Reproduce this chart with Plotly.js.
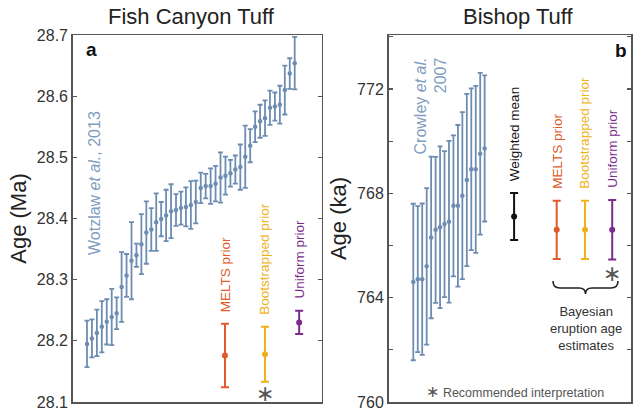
<!DOCTYPE html>
<html>
<head>
<meta charset="utf-8">
<script src="https://cdn.plot.ly/plotly-3.0.1.min.js"></script>
<style>html,body{margin:0;padding:0;background:#fff;}#chart{width:633px;height:415px;}</style>
</head>
<body>
<div id="chart"></div>
<script>
// ---------- Data ----------
// Fish Canyon Tuff (Wotzlaw et al., 2013) single-zircon ages, Ma
const fctAge = [28.195, 28.204, 28.213, 28.223, 28.231, 28.239, 28.245, 28.288, 28.307, 28.331,
                28.340, 28.358, 28.377, 28.382, 28.394, 28.399, 28.405, 28.412, 28.414, 28.417,
                28.419, 28.422, 28.427, 28.450, 28.453, 28.453, 28.457, 28.467, 28.470, 28.474,
                28.480, 28.484, 28.501, 28.519, 28.550, 28.559, 28.564, 28.581, 28.583, 28.586,
                28.610, 28.637, 28.654];
const fctErr = [0.038, 0.031, 0.038, 0.042, 0.037, 0.046, 0.026, 0.057, 0.035, 0.063,
                0.019, 0.049, 0.051, 0.035, 0.047, 0.028, 0.042, 0.044, 0.026, 0.027,
                0.032, 0.039, 0.035, 0.025, 0.020, 0.029, 0.029, 0.041, 0.031, 0.022,
                0.023, 0.037, 0.051, 0.027, 0.025, 0.027, 0.029, 0.028, 0.023, 0.031,
                0.040, 0.025, 0.043];
// Fish Canyon Tuff Bayesian eruption age estimates, Ma
const fctEstNames = ["MELTS prior", "Bootstrapped prior", "Uniform prior"];
const fctEstAge = [28.176, 28.178, 28.230];
const fctEstErr = [0.052, 0.045, 0.019];

// Bishop Tuff (Crowley et al. 2007) single-zircon ages, ka
const btAge = [764.60, 764.71, 764.71, 765.20, 766.31, 766.60, 766.70, 766.82, 766.91,
               767.52, 767.52, 767.91, 768.51, 768.92, 768.92, 769.52, 769.72];
const btErr = [3.0, 2.8, 2.9, 3.0, 3.1, 2.8, 3.1, 2.8, 3.1, 2.7, 3.1, 3.2, 3.3, 3.1, 3.2, 3.1, 2.8];
// Bishop Tuff weighted mean and Bayesian eruption age estimates, ka
const btEstNames = ["Weighted mean", "MELTS prior", "Bootstrapped prior", "Uniform prior"];
const btEstAge = [767.11, 766.60, 766.60, 766.60];
const btEstErr = [0.90, 1.12, 1.12, 1.14];

// ---------- Styling ----------
const FONT = "Liberation Sans, Arial, Helvetica, sans-serif";
const BLUE = "#6d8cb1";
const BLUE_TXT = "#7f9dc0";
const estColors = {
  "Weighted mean": "#111111",
  "MELTS prior": "#e05a2b",
  "Bootstrapped prior": "#efb21c",
  "Uniform prior": "#7b2d8e"
};
const fctEstX = [28.9, 37.0, 43.9];       // slot positions on panel a
const btEstX = [23.6, 33.15, 39.5, 45.6]; // slot positions on panel b

const W = 633, H = 415, MT = 35, MB = 13;
const plotH = H - MT - MB;
const px = p => p / W;
const py = p => (H - MB - p) / plotH;

function seriesTrace(y, err, xa, ya, color, size) {
  return {
    type: "scatter", mode: "markers",
    x: y.map((_, i) => i + 1), y: y,
    xaxis: xa, yaxis: ya,
    marker: {color: color, size: size},
    error_y: {type: "data", array: err, visible: true, color: color, thickness: 1.8, width: 2.5},
    hoverinfo: "skip", showlegend: false, cliponaxis: false
  };
}

const traces = [];
traces.push(seriesTrace(fctAge, fctErr, "x", "y", BLUE, 4.5));
traces.push(seriesTrace(btAge, btErr, "x2", "y2", BLUE, 4.5));

const annotations = [];

fctEstNames.forEach((n, i) => {
  const c = estColors[n];
  traces.push({
    type: "scatter", mode: "markers", x: [fctEstX[i]], y: [fctEstAge[i]],
    xaxis: "x", yaxis: "y", marker: {color: c, size: 6},
    error_y: {type: "data", array: [fctEstErr[i]], visible: true, color: c, thickness: 2, width: 4},
    showlegend: false, hoverinfo: "skip"
  });
  annotations.push({
    xref: "x", yref: "y", x: fctEstX[i], y: fctEstAge[i] + fctEstErr[i], yshift: 10,
    text: n, textangle: -90, showarrow: false, xanchor: "center", yanchor: "bottom",
    font: {family: FONT, size: 13.5, color: c}
  });
});

btEstNames.forEach((n, i) => {
  const c = estColors[n];
  traces.push({
    type: "scatter", mode: "markers", x: [btEstX[i]], y: [btEstAge[i]],
    xaxis: "x2", yaxis: "y2", marker: {color: c, size: 6},
    error_y: {type: "data", array: [btEstErr[i]], visible: true, color: c, thickness: 2, width: 4},
    showlegend: false, hoverinfo: "skip"
  });
  annotations.push({
    xref: "x2", yref: "y2", x: btEstX[i], y: btEstAge[i] + btEstErr[i], yshift: 10,
    text: n, textangle: -90, showarrow: false, xanchor: "center", yanchor: "bottom",
    font: {family: FONT, size: 13.5, color: c}
  });
});

// Recommended-interpretation asterisks
annotations.push({xref: "x", yref: "paper", x: fctEstX[1], y: py(393), text: "∗", showarrow: false,
  xanchor: "center", yanchor: "middle", font: {family: "DejaVu Sans", size: 22, color: "#555"}});
annotations.push({xref: "x2", yref: "paper", x: btEstX[3], y: py(273), text: "∗", showarrow: false,
  xanchor: "center", yanchor: "middle", font: {family: "DejaVu Sans", size: 22, color: "#555"}});

// Panel titles
annotations.push({xref: "paper", yref: "paper", x: px(191), y: py(17), text: "Fish Canyon Tuff",
  showarrow: false, xanchor: "center", yanchor: "middle", font: {family: FONT, size: 22, color: "#222"}});
annotations.push({xref: "paper", yref: "paper", x: px(518), y: py(17), text: "Bishop Tuff",
  showarrow: false, xanchor: "center", yanchor: "middle", font: {family: FONT, size: 22, color: "#222"}});

// Panel letters
annotations.push({xref: "paper", yref: "paper", x: px(91), y: py(49), text: "<b>a</b>",
  showarrow: false, xanchor: "center", yanchor: "middle", font: {family: FONT, size: 19, color: "#111"}});
annotations.push({xref: "paper", yref: "paper", x: px(621), y: py(51), text: "<b>b</b>",
  showarrow: false, xanchor: "center", yanchor: "middle", font: {family: FONT, size: 19, color: "#111"}});

// Source labels
annotations.push({xref: "paper", yref: "paper", x: px(95), y: py(183), text: "Wotzlaw <i>et al.</i>, 2013",
  textangle: -90, showarrow: false, xanchor: "center", yanchor: "middle",
  font: {family: FONT, size: 16, color: BLUE_TXT}});
annotations.push({xref: "paper", yref: "paper", x: px(431), y: py(56), text: "Crowley <i>et al.</i><br>2007",
  textangle: -90, align: "right", showarrow: false, xanchor: "center", yanchor: "top",
  font: {family: FONT, size: 16, color: BLUE_TXT}});

// Bayesian group label
annotations.push({xref: "paper", yref: "paper", x: px(586), y: py(302), text: "Bayesian<br>eruption age<br>estimates",
  showarrow: false, xanchor: "center", yanchor: "top", align: "center",
  font: {family: FONT, size: 13, color: "#333"}});

// Footnote
annotations.push({xref: "paper", yref: "paper", x: px(515), y: py(391),
  text: "<span style=\"font-family:DejaVu Sans;font-size:16px;fill:#555\">∗</span> Recommended interpretation",
  showarrow: false, xanchor: "center", yanchor: "middle", font: {family: FONT, size: 12.5, color: "#555"}});

// Brace under the Bayesian estimates
function bracePath() {
  const pts = (x, y) => px(x).toFixed(5) + "," + py(y).toFixed(5);
  return "M" + pts(553, 281) +
    " Q" + pts(553, 288) + " " + pts(560, 288) +
    " L" + pts(579, 288) +
    " Q" + pts(585.5, 288) + " " + pts(585.5, 294) +
    " Q" + pts(585.5, 288) + " " + pts(592, 288) +
    " L" + pts(611, 288) +
    " Q" + pts(618, 288) + " " + pts(618, 281);
}
const shapes = [{type: "path", xref: "paper", yref: "paper", path: bracePath(),
  line: {color: "#222", width: 1.6}}];

const axisBase = {
  showline: true, mirror: true, linecolor: "#555", linewidth: 1.5,
  showgrid: false, zeroline: false, fixedrange: true
};

const layout = {
  width: W, height: H,
  margin: {l: 0, r: 0, t: MT, b: MB, pad: 0},
  paper_bgcolor: "#fff", plot_bgcolor: "#fff",
  font: {family: FONT, color: "#333"},
  showlegend: false,
  xaxis: Object.assign({}, axisBase, {domain: [px(72.7), px(321.7)], range: [-1.89, 48.46],
    showticklabels: false, ticks: ""}),
  yaxis: Object.assign({}, axisBase, {anchor: "x", domain: [0, 1], range: [28.1, 28.7],
    tick0: 28.1, dtick: 0.1, tickformat: ".1f", ticks: "inside", ticklen: 4, tickwidth: 1.2,
    tickcolor: "#555", mirror: "ticks",
    tickfont: {family: FONT, size: 16, color: "#333"},
    title: {text: "Age (Ma)", standoff: 4, font: {family: FONT, size: 22, color: "#222"}}}),
  xaxis2: Object.assign({}, axisBase, {domain: [px(388.5), px(631)], range: [-4.56, 49.81],
    showticklabels: false, ticks: ""}),
  yaxis2: Object.assign({}, axisBase, {anchor: "x2", domain: [0, 1], range: [760, 774.07],
    tick0: 760, dtick: 4, ticks: "inside", ticklen: 4, tickwidth: 1.2, tickcolor: "#555", mirror: "ticks",
    minor: {dtick: 2, tick0: 760, ticks: "inside", ticklen: 4, tickwidth: 1.2, tickcolor: "#555"},
    tickfont: {family: FONT, size: 16, color: "#333"},
    title: {text: "Age (ka)", standoff: 4, font: {family: FONT, size: 22, color: "#222"}}}),
  annotations: annotations,
  shapes: shapes
};

Plotly.newPlot("chart", traces, layout, {staticPlot: true, displayModeBar: false});
</script>
</body>
</html>
